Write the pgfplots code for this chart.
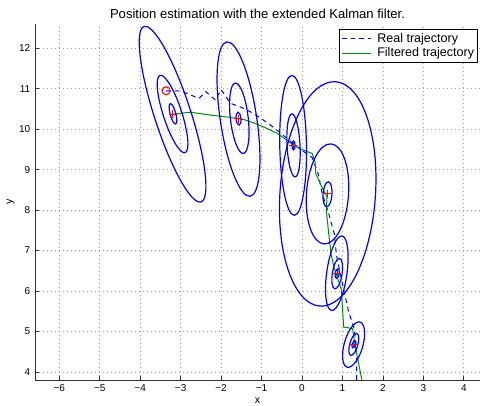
\documentclass[border=0pt]{standalone}
\usepackage{fontspec}
\setmainfont{Liberation Sans}
\usepackage{pgfplots}
\pgfplotsset{compat=1.18}
\definecolor{mgreen}{rgb}{0,0.55,0}
\newcommand{\cov}[5]{\draw[blue, line width=0.9pt, rotate around={#5:(axis cs:#1,#2)}] (axis cs:#1,#2) ellipse [x radius=#3, y radius=#4];}
\begin{document}
\begin{tikzpicture}
\begin{axis}[name=ax,
 x=30.33pt, y=30.33pt,
 xmin=-6.6, xmax=4.4, ymin=3.8, ymax=12.6,
 axis x line*=bottom, axis y line*=left,
 axis line style={line width=0.6pt, black!80},
 xtick={-6,...,4}, xticklabels={−6,−5,−4,−3,−2,−1,0,1,2,3,4},
 ytick={4,...,12}, yticklabels={4,5,6,7,8,9,10,11,12},
 tick align=inside, major tick length=3pt, tick style={black!80, line width=0.6pt},
 ticklabel style={font=\fontsize{7.5}{8}\selectfont},
 grid=major, major grid style={gray!70, line width=0.5pt, dash pattern=on 0.6pt off 2.4pt},
 every axis title shift=0pt,
 title={Position estimation with the extended Kalman filter.},
 title style={at={(axis description cs:0.5,1.0161)}, anchor=base, font=\fontsize{9.8}{10}\selectfont},
 xlabel={x}, ylabel={y},
 xlabel style={at={(axis description cs:0.5,-0.0646)}, anchor=base, font=\fontsize{8}{9}\selectfont},
 ylabel style={at={(axis description cs:-0.0507,0.5)}, anchor=base, font=\fontsize{8}{9}\selectfont},
 legend style={at={(axis description cs:1,1)}, anchor=north east, xshift=-1.5pt, yshift=-3.75pt,
   font=\fontsize{9.4}{10}\selectfont, draw=black, line width=0.8pt, inner xsep=1.5pt, inner ysep=1.5pt,
   row sep=0pt, nodes={inner sep=1pt, text height=7pt, text depth=2pt},
   /tikz/every odd column/.append style={column sep=3.5pt}},
 legend cell align=left,
 legend image code/.code={\draw[#1] (0cm,0cm) -- (0.76cm,0cm);},
]
\addplot[blue, line width=0.75pt, dash pattern=on 3.5pt off 3pt] coordinates {
(-3.36,10.95) (-3.0,10.95) (-2.55,10.76) (-2.38,10.93) (-2.14,10.72) (-2.0,10.98)
(-1.77,10.64) (-1.5,10.54) (-1.2,10.39) (-0.8,10.12) (-0.5,9.88) (-0.2,9.62)
(0.05,9.44) (0.25,9.3) (0.4,8.9) (0.5,8.4) (0.65,7.95) (0.8,7.4) (0.85,6.9)
(0.95,6.4) (1.05,5.95) (1.15,5.5) (1.28,5.1) (1.33,4.8) (1.35,4.3) (1.35,3.8)};
\addlegendentry{Real trajectory}
\addplot[mgreen, line width=0.75pt] coordinates {
(-3.19,10.37) (-2.76,10.42) (-2.27,10.35) (-1.77,10.29) (-1.44,10.24) (-1.15,10.14)
(-0.87,10.02) (-0.62,9.9) (-0.21,9.61) (0.04,9.48) (0.25,9.4) (0.32,9.2) (0.34,8.9)
(0.49,8.57) (0.62,8.33) (0.6,8.0) (0.66,7.42) (0.72,6.9) (0.8,6.55) (0.97,6.05)
(1.03,5.11) (1.25,5.07) (1.32,4.61) (1.48,3.8)};
\addlegendentry{Filtered trajectory}
\cov{-3.2}{10.37}{2.28}{0.45}{108}
\cov{-3.2}{10.375}{1.005}{0.23}{108}
\cov{-3.19}{10.38}{0.26}{0.07}{105}
\cov{-1.57}{10.25}{1.93}{0.45}{98.6}
\cov{-1.55}{10.27}{0.876}{0.22}{96.6}
\cov{-1.57}{10.26}{0.16}{0.06}{95}
\cov{-0.22}{9.6}{1.73}{0.33}{91}
\cov{-0.21}{9.6}{0.78}{0.16}{93}
\cov{-0.21}{9.6}{0.11}{0.04}{90}
\cov{0.635}{8.4}{2.78}{1.18}{86}
\cov{0.63}{8.4}{1.24}{0.52}{86}
\cov{0.63}{8.39}{0.31}{0.11}{86}
\cov{0.86}{6.44}{0.93}{0.25}{82}
\cov{0.87}{6.43}{0.38}{0.12}{81}
\cov{0.87}{6.43}{0.12}{0.05}{80}
\cov{1.275}{4.675}{0.58}{0.23}{74}
\cov{1.28}{4.68}{0.28}{0.1}{74}
\cov{1.28}{4.68}{0.09}{0.04}{74}
\addplot[only marks, mark=+, red, mark size=3pt, line width=0.8pt, forget plot] coordinates {
(-3.19,10.37) (-1.57,10.26) (-0.22,9.6) (0.63,8.4) (0.87,6.43) (1.28,4.68)};
\addplot[only marks, mark=o, red, mark size=3pt, line width=0.8pt, forget plot] coordinates {(-3.36,10.95)};
\end{axis}
\pgfresetboundingbox
\path ([shift={(-26.25pt,-18.75pt)}]ax.south west) rectangle ([shift={(0pt,18pt)}]ax.north east);
\end{tikzpicture}
\end{document}
